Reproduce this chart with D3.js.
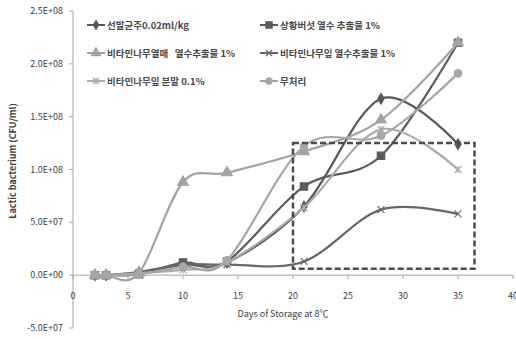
<!DOCTYPE html>
<html>
<head>
<meta charset="utf-8">
<script src="https://d3js.org/d3.v7.min.js"></script>
<style>
  body { margin: 0; background: #fff; }
  text { font-family: "Noto Sans CJK KR", "Noto Sans", sans-serif; }
  .tick-label { font-size: 9px; fill: #404040; }
  .legend text { font-size: 9.5px; font-weight: bold; fill: #4a4a4a; white-space: pre; }
</style>
</head>
<body>
<script>
// storage days and series values (CFU/ml)
var days = [2, 3, 6, 10, 14, 21, 28, 35];

var seriesNames = ["선발균주0.02ml/kg", "상황버섯 열수 추출물 1%", "비타민나무열매   열수추출물 1%",
                   "비타민나무잎 열수추출물 1%", "비타민나무잎 분말 0.1%", "무처리"];

var starter   = [0, 0, 0.03e8, 0.10e8, 0.12e8, 0.65e8, 1.67e8, 1.24e8];
var mushroom  = [0, 0, 0.01e8, 0.12e8, 0.13e8, 0.84e8, 1.13e8, 2.20e8];
var berry     = [0, 0, 0.02e8, 0.88e8, 0.97e8, 1.17e8, 1.47e8, 2.20e8];
var leafExt   = [0, 0, 0.02e8, 0.10e8, 0.10e8, 0.13e8, 0.62e8, 0.58e8];
var leafPowd  = [0, 0, 0.02e8, 0.05e8, 0.12e8, 0.64e8, 1.38e8, 1.00e8];
var control   = [0, 0, 0.01e8, 0.08e8, 0.14e8, 1.22e8, 1.32e8, 1.91e8];

var yTicks = [-5e7, 0, 5e7, 1e8, 1.5e8, 2e8, 2.5e8];
var xTicks = [0, 5, 10, 15, 20, 25, 30, 35, 40];

var width = 516, height = 339;

var svg = d3.select("body").append("svg")
    .attr("width", width)
    .attr("height", height);

svg.append("rect").attr("width", width).attr("height", height).attr("fill", "#fff");

var x = d3.scaleLinear().domain([0, 40]).range([73, 513]);
var y = d3.scaleLinear().domain([-5e7, 2.5e8]).range([328, 11]);

function sci(v) {
  if (v === 0) return "0.0E+00";
  var e = Math.floor(Math.log10(Math.abs(v)));
  var m = v / Math.pow(10, e);
  return m.toFixed(1) + "E+" + (e < 10 ? "0" + e : e);
}

// y axis
var yAxis = svg.append("g");
yAxis.append("line")
    .attr("x1", x(0)).attr("x2", x(0))
    .attr("y1", y(2.5e8)).attr("y2", y(-5e7))
    .attr("stroke", "#a6a6a6");
yAxis.selectAll(".yt").data(yTicks).enter().append("line")
    .attr("x1", x(0) - 4).attr("x2", x(0))
    .attr("y1", function(d) { return y(d); })
    .attr("y2", function(d) { return y(d); })
    .attr("stroke", "#a6a6a6");
yAxis.selectAll(".yl").data(yTicks).enter().append("text")
    .attr("class", "tick-label")
    .attr("x", 63)
    .attr("y", function(d) { return y(d) + 3; })
    .attr("text-anchor", "end")
    .text(sci);

// x axis on zero line
var xAxis = svg.append("g");
xAxis.append("line")
    .attr("x1", x(0)).attr("x2", x(40))
    .attr("y1", y(0)).attr("y2", y(0))
    .attr("stroke", "#a6a6a6");
xAxis.selectAll(".xt").data(xTicks).enter().append("line")
    .attr("x1", function(d) { return x(d); })
    .attr("x2", function(d) { return x(d); })
    .attr("y1", y(0)).attr("y2", y(0) + 4)
    .attr("stroke", "#a6a6a6");
xAxis.selectAll(".xl").data(xTicks).enter().append("text")
    .attr("class", "tick-label")
    .attr("x", function(d) { return x(d); })
    .attr("y", 299)
    .attr("text-anchor", "middle")
    .text(function(d) { return d; });

svg.append("text")
    .attr("x", 283).attr("y", 317)
    .attr("text-anchor", "middle")
    .attr("font-size", "9px")
    .attr("fill", "#404040")
    .text("Days of Storage  at 8℃");

svg.append("text")
    .attr("transform", "translate(16,161) rotate(-90)")
    .attr("text-anchor", "middle")
    .attr("font-size", "9px")
    .attr("font-weight", "bold")
    .attr("fill", "#404040")
    .text("Lactic bacterium  (CFU/ml)");

// marker shapes
function markerPath(type, s) {
  switch (type) {
    case "diamond": return d3.symbol(d3.symbolDiamond, s * s * 0.9)();
    case "square": return d3.symbol(d3.symbolSquare, s * s * 1.1)();
    case "triangle": return d3.symbol(d3.symbolTriangle, s * s)();
    case "circle": return d3.symbol(d3.symbolCircle, s * s * 0.9)();
    case "x": var h = s / 2; return "M" + -h + "," + -h + "L" + h + "," + h + "M" + -h + "," + h + "L" + h + "," + -h;
    case "star": var k = s / 2; return "M" + -k + "," + -k + "L" + k + "," + k + "M" + -k + "," + k + "L" + k + "," + -k + "M0," + -k + "L0," + k;
  }
}

var series = [
  { name: seriesNames[0], values: starter,  color: "#585858", marker: "diamond", size: 6 },
  { name: seriesNames[1], values: mushroom, color: "#5c5c5c", marker: "square", size: 7 },
  { name: seriesNames[2], values: berry,    color: "#a3a3a3", marker: "triangle", size: 7 },
  { name: seriesNames[3], values: leafExt,  color: "#676767", marker: "x", size: 7 },
  { name: seriesNames[4], values: leafPowd, color: "#aaaaaa", marker: "star", size: 7 },
  { name: seriesNames[5], values: control,  color: "#a6a6a6", marker: "circle", size: 7 }
];

var line = d3.line()
    .x(function(d) { return x(d[0]); })
    .y(function(d) { return y(d[1]); })
    .curve(d3.curveCardinal.tension(0));

var plot = svg.append("g");

series.forEach(function(s) {
  var pts = days.map(function(d, i) { return [d, s.values[i]]; });
  plot.append("path")
      .attr("d", line(pts))
      .attr("fill", "none")
      .attr("stroke", s.color)
      .attr("stroke-width", 2.2);
  plot.selectAll(null).data(pts).enter().append("path")
      .attr("transform", function(d) { return "translate(" + x(d[0]) + "," + y(d[1]) + ")"; })
      .attr("d", markerPath(s.marker, s.size))
      .attr("fill", s.color)
      .attr("stroke", s.color)
      .attr("stroke-width", 1.2);
});

// dashed highlight box
plot.append("rect")
    .attr("x", x(20)).attr("y", y(1.25e8))
    .attr("width", x(36.5) - x(20))
    .attr("height", y(0.06e8) - y(1.25e8))
    .attr("fill", "none")
    .attr("stroke", "#4d4d4d")
    .attr("stroke-width", 2.5)
    .attr("stroke-dasharray", "6,3");

// legend, 2 columns x 3 rows
var legend = svg.append("g").attr("class", "legend");
var legPos = [[87, 25], [260, 25], [87, 53], [260, 53], [87, 81], [260, 81]];
series.forEach(function(s, i) {
  var p = legPos[i];
  var g = legend.append("g").attr("transform", "translate(" + p[0] + "," + p[1] + ")");
  g.append("line").attr("x1", 0).attr("x2", 18).attr("y1", 0).attr("y2", 0)
      .attr("stroke", s.color).attr("stroke-width", 2);
  g.append("path").attr("transform", "translate(9,0)")
      .attr("d", markerPath(s.marker, s.size - 1))
      .attr("fill", s.color).attr("stroke", s.color).attr("stroke-width", 1.2);
  g.append("text").attr("x", 20).attr("y", 3.5).text(s.name);
});
</script>
</body>
</html>
